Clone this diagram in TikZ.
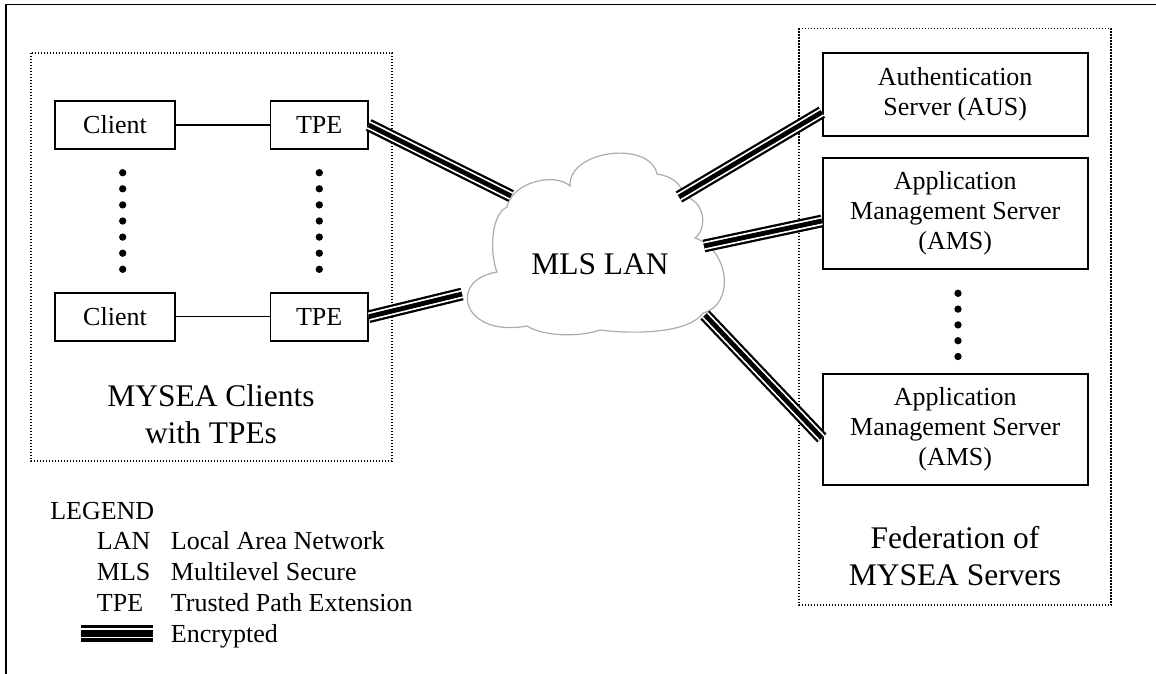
\documentclass[tikz,border=0pt]{standalone}
\usepackage{fontspec}
\setmainfont{Liberation Serif}
\tikzset{
  box/.style={draw, line width=1.3pt, fill=white, align=center, inner sep=0pt,
              font=\fontsize{19.5}{22.5}\selectfont},
  clientbox/.style={box, minimum width=90pt, minimum height=36pt},
  srvbox/.style={box, minimum width=198.75pt},
  group/.style={draw, line width=0.9pt, dash pattern=on 0.9pt off 1.35pt},
  bigtext/.style={font=\fontsize{23.6}{27.75}\selectfont, align=center, inner sep=0pt},
  legtext/.style={font=\fontsize{19.5}{22.5}\selectfont, anchor=base west, inner sep=0pt},
  plainlink/.style={line width=1.1pt},
  enc/.style={line width=9.6pt,
              postaction={draw, white, line width=6.2pt},
              postaction={draw, black, line width=3.6pt}},
  enclegend/.style={line width=12.5pt,
              postaction={draw, white, line width=7.6pt},
              postaction={draw, black, line width=5pt}},
  blob/.style={circle, fill=black, inner sep=0pt, minimum size=5.5pt},
}
\begin{document}
\begin{tikzpicture}[x={(0.75pt,0)}, y={(0,-0.75pt)}]
\useasboundingbox (0,0) rectangle (1156,674);

% outer frame (top and left edges)
\draw[line width=1.2pt] (6,674) -- (6,4.5) -- (1156,4.5);

% dotted group outlines
\draw[group] (31,53) rectangle (392,461);
\draw[group] (799,28.5) rectangle (1111,605);

% clients and trusted path extensions
\node[clientbox] (cl1) at (115,125) {Client};
\node[clientbox, minimum width=73pt] (tpe1) at (319.2,125) {TPE};
\node[clientbox] (cl2) at (115,316.7) {Client};
\node[clientbox, minimum width=73pt] (tpe2) at (319.2,316.7) {TPE};
\draw[plainlink] (cl1) -- (tpe1);
\draw[plainlink] (cl2) -- (tpe2);

\foreach \i in {0,...,6} {
  \node[blob] (cdot\i) at (122.7,172.7+16.1*\i) {};
  \node[blob] (tdot\i) at (319.3,172.7+16.1*\i) {};
}

\node[bigtext] (cltitle) at (211,414) {MYSEA Clients\\with TPEs};

% servers
\node[srvbox, minimum height=62.25pt] (aus) at (955.2,94.2) {Authentication\\Server (AUS)};
\node[srvbox, minimum height=83.6pt] (ams1) at (955.2,213.5) {Application\\Management Server\\(AMS)};
\node[srvbox, minimum height=83.6pt] (ams2) at (955.2,429.5) {Application\\Management Server\\(AMS)};
\foreach \i in {0,...,4} {
  \node[blob] (sdot\i) at (958,293.3+15.8*\i) {};
}
\node[bigtext] (svtitle) at (955,555.7) {Federation of\\MYSEA Servers};

% the MLS LAN cloud
\draw[gray!65, line width=0.9pt, fill=white]
  (507,207) .. controls (512,182) and (555,172) .. (570,186)
            .. controls (568,150) and (650,140) .. (657,174)
            .. controls (672,176) and (683,185) .. (683,196)
            .. controls (705,200) and (708,228) .. (695,238)
            .. controls (730,250) and (735,305) .. (703,313)
            .. controls (690,332) and (640,335) .. (600,330)
            .. controls (580,337) and (545,337) .. (527,326)
            .. controls (462,338) and (447,280) .. (497,272)
            .. controls (490,255) and (490,215) .. (507,207) -- cycle;
\node[bigtext, anchor=base] (lan) at (600,274) {MLS LAN};

% attachment points on the cloud and the server boxes
\coordinate (lanA) at (511,196);
\coordinate (lanB) at (462,294);
\coordinate (lanC) at (679,197);
\coordinate (lanD) at (704,246);
\coordinate (lanE) at (705,315);
\coordinate (ausIn)  at ([yshift=-13.5pt]aus.west);
\coordinate (ams1In) at ([yshift=-5.6pt]ams1.west);
\coordinate (ams2In) at ([yshift=-6.4pt]ams2.west);

% encrypted links
\draw[enc] (tpe1.east) -- (lanA);
\draw[enc] (tpe2.east) -- (lanB);
\draw[enc] (lanC) -- (ausIn);
\draw[enc] (lanD) -- (ams1In);
\draw[enc] (lanE) -- (ams2In);

% legend
\node[legtext] (lghead) at (50,519) {LEGEND};
\node[legtext] (lgk1) at (96.7,549.75) {LAN};
\node[legtext] (lgv1) at (170.7,549.75) {Local Area Network};
\node[legtext] (lgk2) at (96.7,580.5) {MLS};
\node[legtext] (lgv2) at (170.7,580.5) {Multilevel Secure};
\node[legtext] (lgk3) at (96.7,611.25) {TPE};
\node[legtext] (lgv3) at (170.7,611.25) {Trusted Path Extension};
\coordinate (lgencA) at (80.7,633.3);
\coordinate (lgencB) at (153.3,633.3);
\draw[enclegend] (lgencA) -- (lgencB);
\node[legtext] (lgv4) at (170.7,642) {Encrypted};
\end{tikzpicture}
\end{document}
